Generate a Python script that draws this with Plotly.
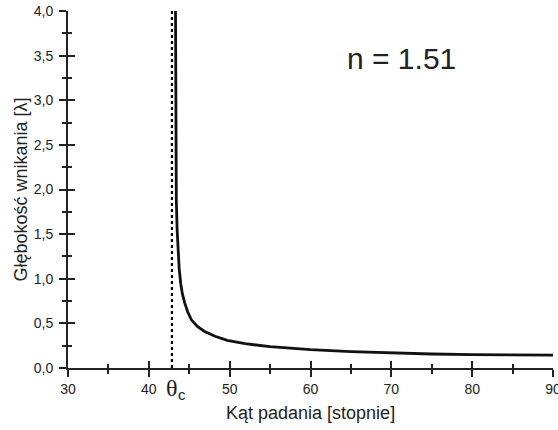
import plotly.graph_objects as go

angles = [43.30, 43.33, 43.37, 43.40, 43.50, 43.60, 43.75, 43.94, 44.15, 44.44, 44.80,
          45.27, 46.0, 46.9, 48.2, 49.7, 51.9, 55.0, 58.7, 60.0, 65.0, 70.0, 75.0, 80.0, 85.0, 90.0]
depth = [4.00, 3.00, 2.40, 1.88, 1.55, 1.32, 1.12, 0.95, 0.83, 0.73, 0.63,
         0.54, 0.465, 0.41, 0.355, 0.31, 0.272, 0.24, 0.216, 0.205, 0.183, 0.168, 0.157, 0.150, 0.147, 0.145]
critical_angle = 42.86
y_limits = [0, 4]
x_ticks = [30, 40, 50, 60, 70, 80, 90]
y_ticks = [0, 0.5, 1.0, 1.5, 2.0, 2.5, 3.0, 3.5, 4.0]
label_n = "n = 1.51"
x_title = "Kąt padania [stopnie]"
y_title = "Głębokość wnikania [λ]"

SANS = "Liberation Sans, Arial, sans-serif"
INK = "#222222"

fig = go.Figure()
fig.add_trace(go.Scatter(x=[critical_angle, critical_angle], y=y_limits, mode="lines",
                         line=dict(color="black", width=2.2, dash="dot"), showlegend=False))
fig.add_trace(go.Scatter(x=angles, y=depth, mode="lines",
                         line=dict(color="#111111", width=2.8), showlegend=False))
# invisible trace on overlay axes so the inside ticks are drawn
fig.add_trace(go.Scatter(x=[30, 90], y=[0, 4], mode="markers", marker=dict(opacity=0),
                         xaxis="x2", yaxis="y2", showlegend=False, hoverinfo="skip"))

tick_common = dict(tickwidth=1.5, tickcolor=INK, showgrid=False, zeroline=False, automargin=False)

fig.update_layout(
    width=558, height=430,
    margin=dict(l=68, r=5, t=11, b=62),
    paper_bgcolor="white", plot_bgcolor="white",
    separators=",.",
    font=dict(family=SANS, size=14, color=INK),
    xaxis=dict(range=[30, 90], tickvals=x_ticks, ticks="outside", ticklen=7,
               showline=True, linecolor=INK, linewidth=2, tickfont=dict(size=14),
               ticklabelstandoff=0, ticklabeloverflow="allow",
               minor=dict(ticks="outside", ticklen=4, tickwidth=1.5, tickcolor=INK, dtick=5, tick0=30),
               **tick_common),
    yaxis=dict(range=[0, 4], tickvals=y_ticks, tickformat=".1f", ticks="outside", ticklen=7,
               showline=True, linecolor=INK, linewidth=2, tickfont=dict(size=14),
               ticklabelstandoff=3, ticklabeloverflow="allow",
               minor=dict(ticks="outside", ticklen=4, tickwidth=1.5, tickcolor=INK, dtick=0.25, tick0=0),
               **tick_common),
    xaxis2=dict(range=[30, 90], overlaying="x", matches="x", tickvals=x_ticks, ticks="inside",
                ticklen=7, showticklabels=False, showline=False,
                minor=dict(ticks="inside", ticklen=4, tickwidth=1.5, tickcolor=INK, dtick=5, tick0=30),
                **tick_common),
    yaxis2=dict(range=[0, 4], overlaying="y", matches="y", tickvals=y_ticks, ticks="inside",
                ticklen=7, showticklabels=False, showline=False,
                minor=dict(ticks="inside", ticklen=4, tickwidth=1.5, tickcolor=INK, dtick=0.25, tick0=0),
                **tick_common),
)

fig.add_annotation(x=0.5, y=0, xref="paper", yref="paper", xanchor="center", yanchor="middle",
                   yshift=-45, text=x_title, showarrow=False, font=dict(family=SANS, size=18, color=INK))
fig.add_annotation(x=0, y=0.5, xref="paper", yref="paper", xanchor="center", yanchor="middle",
                   xshift=-48, text=y_title, textangle=-90, showarrow=False,
                   font=dict(family=SANS, size=18, color=INK))
fig.add_annotation(x=71.25, y=3.47, xref="x", yref="y", text=label_n, showarrow=False,
                   font=dict(family=SANS, size=30, color=INK))
fig.add_annotation(x=critical_angle, y=0, xref="x", yref="y", yshift=-20, text="θ", showarrow=False,
                   font=dict(family="Liberation Serif, Times New Roman, serif", size=24, color=INK))
fig.add_annotation(x=critical_angle, y=0, xref="x", yref="y", xshift=10, yshift=-26, text="c",
                   showarrow=False, font=dict(family=SANS, size=15, color=INK))

# remove the default 8px page margin so the figure fills the window exactly
fig.write_html("out.html", config={"displayModeBar": False},
               post_script="document.body.style.margin='0';")
